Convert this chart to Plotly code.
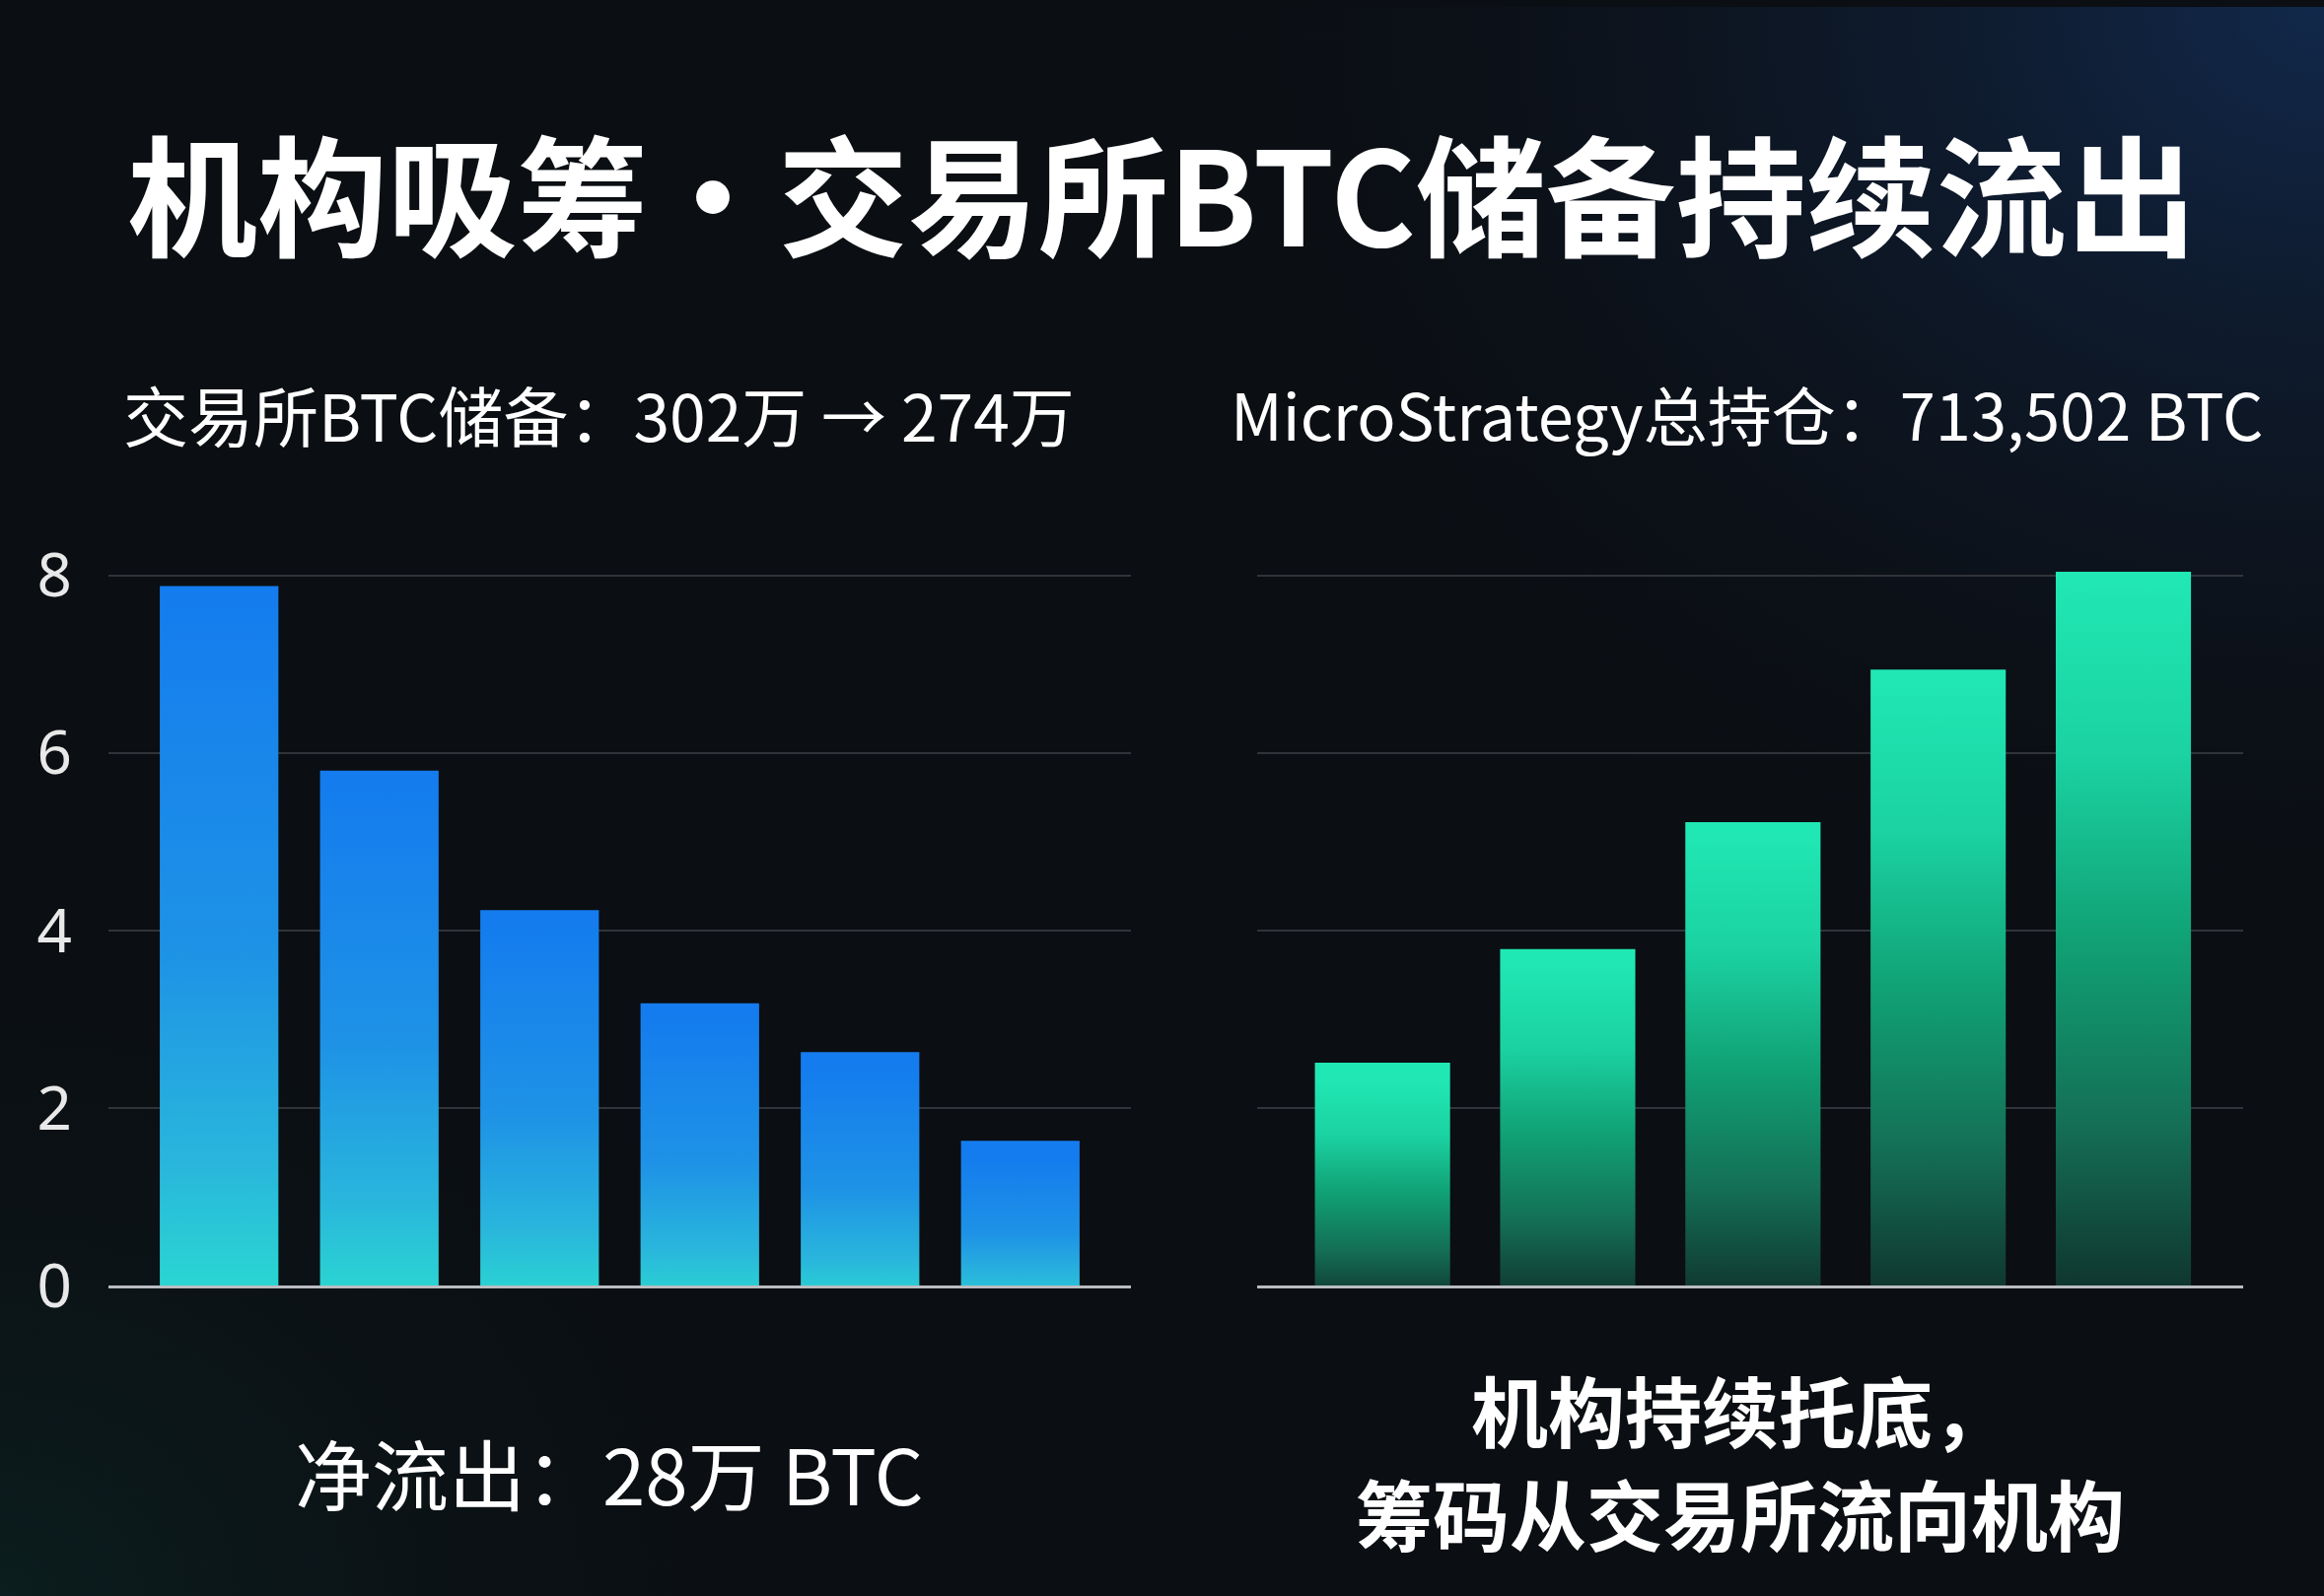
import plotly.graph_objects as go

# data
outflow_labels = ["1", "2", "3", "4", "5", "6"]
outflow_values = [7.88, 5.8, 4.23, 3.18, 2.63, 1.63]

holding_labels = ["1", "2", "3", "4", "5"]
holding_values = [2.51, 3.79, 5.22, 6.94, 8.04]

y_ticks = [0, 2, 4, 6, 8]

title_text = "机构吸筹·交易所BTC储备持续流出"
left_sub = "交易所BTC储备：302万 → 274万"
right_sub = "MicroStrategy总持仓：713,502 BTC"
left_note = "净流出：28万 BTC"
right_note_lines = ["机构持续托底，", "筹码从交易所流向机构"]

BG = "#0b0e12"
CJK = "Noto Sans CJK SC"
# the page is photographed a little taller than the window, so size the figure to fill it
W, H = 2357, 1660

blue_scale = [[0, "#2adbd0"], [0.2, "#29b6dc"], [0.5, "#1e92e6"], [1, "#147cee"]]
green_scale = [[0, "#0f2f2a"], [0.25, "#146f55"], [0.5, "#10a174"], [0.75, "#1bd2a2"], [1, "#20e8b4"]]

fig = go.Figure()

# soft background glows on a hidden full-page subplot (drawn first)
fig.add_trace(go.Scatter(
    x=[0.45, 1.55, 1.55, 0.45, 0.45], y=[0.35, 0.35, 1.65, 1.65, 0.35],
    fill="toself", mode="none", hoverinfo="skip", showlegend=False,
    fillgradient=dict(type="radial", colorscale=[[0, "rgba(18,42,78,0.95)"], [1, "rgba(11,14,18,0)"]]),
    xaxis="x", yaxis="y",
))
fig.add_trace(go.Scatter(
    x=[-0.4, 0.4, 0.4, -0.4, -0.4], y=[-0.5, -0.5, 0.5, 0.5, -0.5],
    fill="toself", mode="none", hoverinfo="skip", showlegend=False,
    fillgradient=dict(type="radial", colorscale=[[0, "rgba(12,40,38,0.6)"], [1, "rgba(11,14,18,0)"]]),
    xaxis="x", yaxis="y",
))


def add_bars(values, width, scale, xa, ya):
    for i, v in enumerate(values):
        fig.add_trace(go.Scatter(
            x=[i - width / 2, i - width / 2, i + width / 2, i + width / 2, i - width / 2],
            y=[0, v, v, 0, 0],
            fill="toself", mode="none", hoverinfo="skip", showlegend=False,
            fillgradient=dict(type="vertical", colorscale=scale, start=0, stop=v),
            xaxis=xa, yaxis=ya,
        ))


add_bars(outflow_values, 0.74, blue_scale, "x2", "y2")
add_bars(holding_values, 0.73, green_scale, "x3", "y3")

hidden = dict(visible=False, range=[0, 1], domain=[0, 1], fixedrange=True)
yrange = [0, 8.4]
ydom = [0.1959, 0.6648]
grid = dict(showgrid=True, gridcolor="#30343a", gridwidth=2, zeroline=False, tickvals=y_ticks, range=yrange, domain=ydom)
xline = dict(showgrid=False, zeroline=False, showticklabels=False, showline=True, linecolor="#b9bcc0", linewidth=3)


def note(text, x, y, size, anchor="center"):
    return dict(text=text, x=x, y=y, xref="paper", yref="paper", showarrow=False,
                xanchor=anchor, yanchor="middle", font=dict(family=CJK, size=size, color="#ffffff"))


fig.update_layout(
    width=W, height=H, autosize=False,
    margin=dict(l=0, r=0, t=0, b=0),
    paper_bgcolor=BG, plot_bgcolor="rgba(0,0,0,0)",
    showlegend=False,
    xaxis=hidden, yaxis=hidden,
    xaxis2=dict(xline, domain=[0.0467, 0.4866], range=[-0.69, len(outflow_values) - 1 + 0.69], anchor="y2"),
    yaxis2=dict(grid, anchor="x2", ticklabelstandoff=36,
                tickfont=dict(family="Noto Sans", size=62, color="#e8e8e8")),
    xaxis3=dict(xline, domain=[0.541, 0.965], range=[-0.676, len(holding_values) - 1 + 0.644], anchor="y3"),
    yaxis3=dict(grid, anchor="x3", showticklabels=False),
    annotations=[
        note(f"<b>{title_text}</b>", 0.5, 0.885, 132),
        note(left_sub, 0.052, 0.7445, 66, "left"),
        note(right_sub, 0.9745, 0.7445, 65, "right"),
        note(left_note, 0.262, 0.0788, 78),
        note(f"<b>{right_note_lines[0]}</b>", 0.749, 0.1183, 78),
        note(f"<b>{right_note_lines[1]}</b>", 0.749, 0.0533, 78),
    ],
)

page_fix = (
    "var b=document.body;b.style.margin='0';b.style.overflow='hidden';"
    "b.style.background='" + BG + "';"
)

fig.write_html(
    "out.html",
    config={"displayModeBar": False, "responsive": False},
    post_script=page_fix,
)
